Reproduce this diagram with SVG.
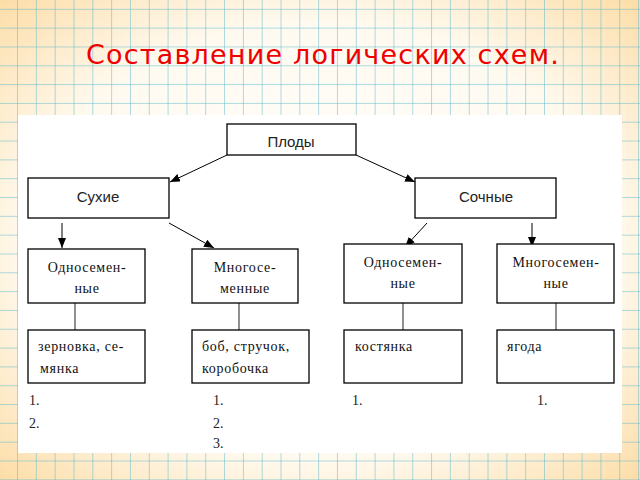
<svg xmlns="http://www.w3.org/2000/svg" width="640" height="480" viewBox="0 0 640 480">
<defs>
<radialGradient id="bg" cx="50%" cy="50%" r="75%">
<stop offset="0" stop-color="#ffffff"/>
<stop offset="0.6" stop-color="#fffaf0"/>
<stop offset="1" stop-color="#fcd89a"/>
</radialGradient>
<pattern id="grid" x="-0.8" y="9.8" width="18.82" height="18.82" patternUnits="userSpaceOnUse">
<path d="M18.82 0V18.82M0 18.82H18.82" fill="none" stroke="#5cb9cb" stroke-width="1"/>
</pattern>
<marker id="ah" viewBox="0 0 10 8" refX="10" refY="4" markerWidth="10" markerHeight="8" markerUnits="userSpaceOnUse" orient="auto">
<path d="M0 0L10 4L0 8Z" fill="#000"/>
</marker>
<style>
.box{fill:#fff;stroke:#000;stroke-width:1.3}
.sans{font-family:"Liberation Sans",Arial,sans-serif;font-size:15px;fill:#222;text-anchor:middle}
.ser{font-family:"Liberation Serif","Times New Roman",serif;font-size:14px;fill:#111;letter-spacing:0.7px}
.mid{text-anchor:middle}
.num{font-family:"Liberation Serif","Times New Roman",serif;font-size:14px;fill:#222}
.arr{stroke:#000;stroke-width:1;fill:none;marker-end:url(#ah)}
.ln{stroke:#555;stroke-width:1.3;fill:none}
</style>
</defs>
<rect width="640" height="480" fill="url(#bg)"/>
<rect width="640" height="480" fill="url(#grid)"/>
<rect x="18" y="115" width="604" height="338" fill="#fff"/>
<text x="323" y="64" font-family="DejaVu Sans,Verdana,sans-serif" font-size="27" letter-spacing="1.2" fill="#ee0000" text-anchor="middle">Составление логических схем.</text>

<g id="connectors">
<line class="arr" x1="227" y1="155" x2="170" y2="182"/>
<line class="arr" x1="356" y1="155" x2="415" y2="182"/>
<line class="arr" x1="62" y1="223" x2="62" y2="248"/>
<line class="arr" x1="169" y1="223" x2="214" y2="248"/>
<line class="arr" x1="427" y1="223" x2="405" y2="247"/>
<line class="arr" x1="532" y1="223" x2="532" y2="247"/>
<line class="ln" x1="75" y1="303" x2="75" y2="330"/>
<line class="ln" x1="239" y1="303" x2="239" y2="330"/>
<line class="ln" x1="403" y1="303" x2="403" y2="330"/>
<line class="ln" x1="556" y1="303" x2="556" y2="330"/>
</g>

<g id="plody"><rect class="box" x="227" y="124" width="129" height="31" stroke-width="2"/><text class="sans" x="291" y="147">Плоды</text></g>
<g id="sukhie"><rect class="box" x="28" y="178" width="141" height="40"/><text class="sans" x="98" y="202">Сухие</text></g>
<g id="sochnye"><rect class="box" x="415" y="178" width="141" height="40"/><text class="sans" x="486" y="202">Сочные</text></g>

<g id="odno1"><rect class="box" x="28" y="249" width="117" height="54"/><text class="ser mid" x="87" y="272">Односемен-</text><text class="ser mid" x="87" y="293">ные</text></g>
<g id="mnogo1"><rect class="box" x="192" y="249" width="106" height="54"/><text class="ser mid" x="245" y="272">Многосе-</text><text class="ser mid" x="245" y="293">менные</text></g>
<g id="odno2"><rect class="box" x="344" y="244" width="118" height="59"/><text class="ser mid" x="403" y="267">Односемен-</text><text class="ser mid" x="403" y="288">ные</text></g>
<g id="mnogo2"><rect class="box" x="497" y="244" width="117" height="59"/><text class="ser mid" x="556" y="267">Многосемен-</text><text class="ser mid" x="556" y="288">ные</text></g>

<g id="zern"><rect class="box" x="28" y="330" width="117" height="53"/><text class="ser" x="38" y="351">зерновка, се-</text><text class="ser" x="40" y="373">мянка</text></g>
<g id="bob"><rect class="box" x="192" y="330" width="117" height="53"/><text class="ser" x="202" y="351">боб, стручок,</text><text class="ser" x="202" y="373">коробочка</text></g>
<g id="kost"><rect class="box" x="344" y="330" width="118" height="53"/><text class="ser" x="355" y="351">костянка</text></g>
<g id="yagoda"><rect class="box" x="497" y="330" width="117" height="53"/><text class="ser" x="507" y="351">ягода</text></g>

<g id="numbers">
<text class="num" x="29" y="405">1.</text>
<text class="num" x="29" y="428">2.</text>
<text class="num" x="213" y="405">1.</text>
<text class="num" x="213" y="428">2.</text>
<text class="num" x="213" y="448">3.</text>
<text class="num" x="352" y="405">1.</text>
<text class="num" x="537" y="405">1.</text>
</g>
</svg>
